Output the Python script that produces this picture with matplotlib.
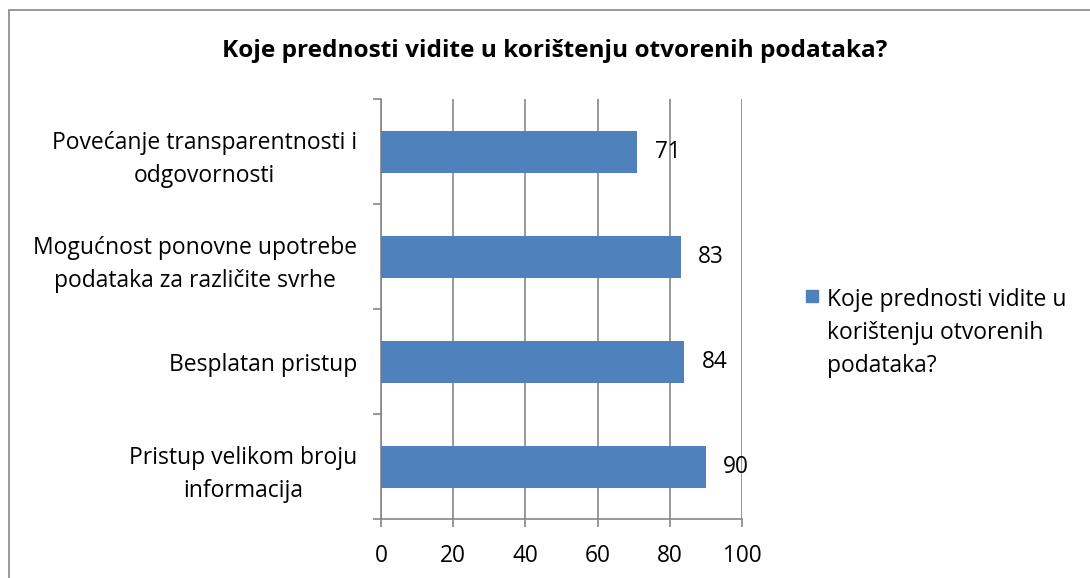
import matplotlib.pyplot as plt
from matplotlib.patches import Rectangle

# data (bottom to top, as drawn)
categories = [
    "Pristup velikom broju\ninformacija",
    "Besplatan pristup",
    "Mogućnost ponovne upotrebe\npodataka za različite svrhe",
    "Povećanje transparentnosti i\nodgovornosti",
]
values = [90, 84, 83, 71]
x_ticks = [0, 20, 40, 60, 80, 100]
title = "Koje prednosti vidite u korištenju otvorenih podataka?"
series_name = "Koje prednosti vidite u\nkorištenju otvorenih\npodataka?"

bar_color = "#4F81BD"
grid_color = "#868686"

plt.rcParams["font.family"] = ["Open Sans", "DejaVu Sans"]

fig = plt.figure(figsize=(10.9, 5.78), dpi=100)
ax = fig.add_axes([0.3495, 0.102, 0.3312, 0.7266])

ypos = list(range(len(categories)))
ax.barh(ypos, values, height=0.4, color=bar_color, zorder=3)
for y, v in zip(ypos, values):
    ax.text(v + 4.8, y, str(v), va="center", ha="left", fontsize=16.3, zorder=4)

ax.set_xlim(0, 100)
ax.set_ylim(-0.5, len(categories) - 0.5)
ax.set_xticks(x_ticks)
ax.set_xticklabels([str(t) for t in x_ticks], fontsize=16.3)
ax.xaxis.grid(True, color=grid_color, linewidth=1.2, zorder=0)

# category ticks at boundaries, labels at centres
ax.set_yticks([i - 0.5 for i in range(len(categories) + 1)])
ax.set_yticklabels([])
ax.set_yticks(ypos, minor=True)
ax.set_yticklabels(categories, minor=True, fontsize=16.5, multialignment="center",
                   linespacing=1.55)
ax.tick_params(axis="y", which="minor", length=0, pad=17)
ax.tick_params(axis="y", which="major", length=6, width=1.2, color=grid_color)
ax.tick_params(axis="x", length=6, width=1.2, color=grid_color, pad=12)

for side in ["top", "right"]:
    ax.spines[side].set_visible(False)
ax.spines["left"].set_color(grid_color)
ax.spines["bottom"].set_color(grid_color)
ax.spines["left"].set_linewidth(1.2)
ax.spines["bottom"].set_linewidth(1.2)

fig.text(0.509, 0.911, title, ha="center", va="center", fontsize=17.6, fontweight="bold")

# legend
fig.patches.append(Rectangle((806 / 1090, 1 - 302 / 578), 12 / 1090, 12 / 578,
                             transform=fig.transFigure, color=bar_color))
fig.text(827 / 1090, 1 - 288 / 578, series_name, ha="left", va="top",
         fontsize=16.5, linespacing=1.5)

# chart border
fig.patches.append(Rectangle((8.5 / 1090, -0.05), 1.1, 1 - 10 / 578 + 0.05,
                             transform=fig.transFigure, fill=False,
                             edgecolor="#868686", linewidth=1.2))

fig.savefig("out.png", dpi=100)
